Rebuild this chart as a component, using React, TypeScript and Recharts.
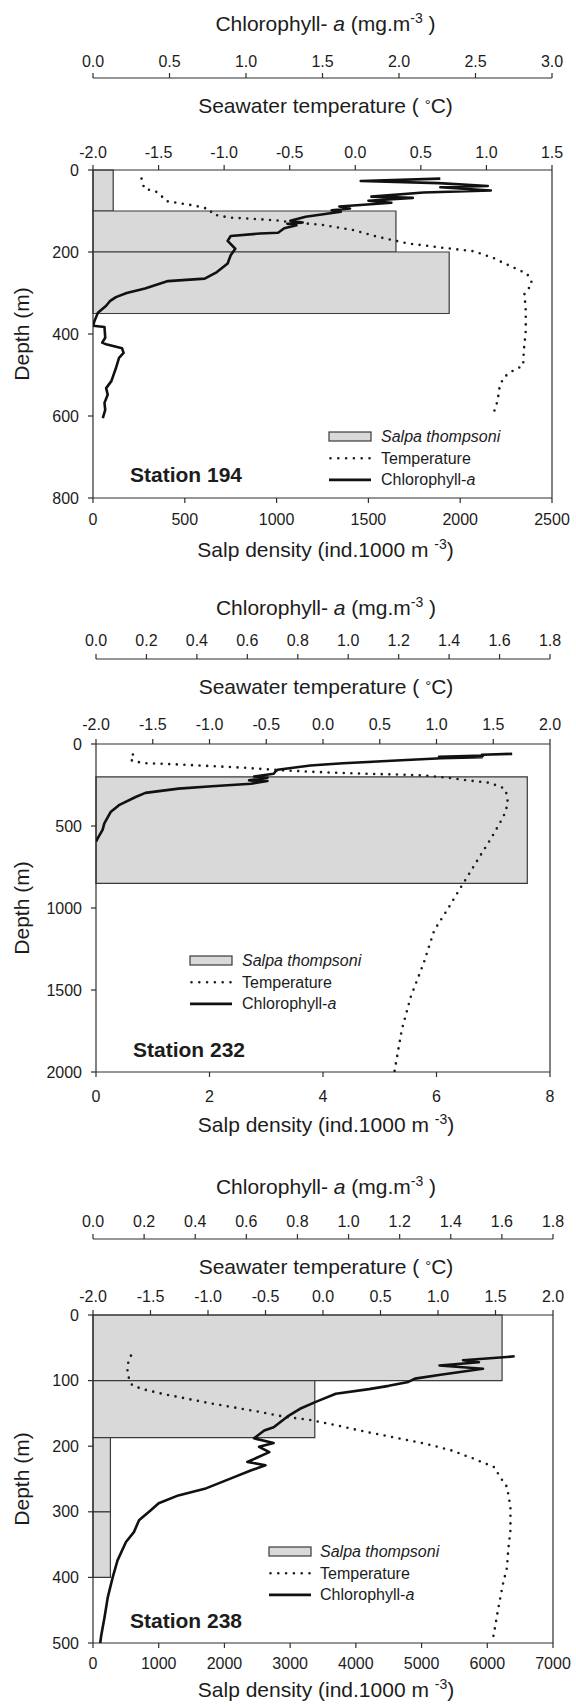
import React from 'react';
import { ComposedChart, Scatter, XAxis, YAxis, ReferenceArea, ReferenceLine } from 'recharts';

const FONT = '"Liberation Sans", Arial, sans-serif';
const INK = '#1c1c1c';
const AXIS = '#2e2e2e';
const BAR_FILL = '#d9d9d9';

// ---------- Station 194 ----------
const st194DepthTicks = [0, 200, 400, 600, 800];
const st194TempTicks = [-2, -1.5, -1, -0.5, 0, 0.5, 1, 1.5];
const st194ChlTicks = [0, 0.5, 1, 1.5, 2, 2.5, 3];
const st194DensityTicks = [0, 500, 1000, 1500, 2000, 2500];
const st194SalpTop = [0, 100, 200];
const st194SalpBottom = [100, 200, 350];
const st194SalpDensity = [110, 1650, 1940];
const st194TempDepth = [21, 32, 45, 54, 66, 76, 80, 85, 90, 96, 108, 116, 120, 123, 127, 134, 146, 163, 179, 189, 198, 214, 222, 237, 253, 277, 302, 343, 392, 441, 477, 490, 506, 530, 563, 588, 600];
const st194Temp = [-1.63, -1.62, -1.61, -1.51, -1.47, -1.44, -1.36, -1.26, -1.18, -1.11, -1.09, -0.96, -0.73, -0.6, -0.5, -0.25, -0.02, 0.17, 0.4, 0.65, 0.9, 1.05, 1.1, 1.2, 1.31, 1.35, 1.29, 1.3, 1.3, 1.285, 1.28, 1.2, 1.13, 1.1, 1.085, 1.06, 1.03];
const st194ChlDepth = [21, 27, 32, 39, 42, 50, 55, 65, 68, 75, 80, 89, 94, 98, 102, 114, 124, 128, 131, 135, 142, 153, 155, 161, 173, 192, 208, 228, 249, 265, 271, 289, 300, 310, 320, 331, 348, 368, 380, 383, 409, 421, 425, 435, 446, 458, 483, 515, 532, 548, 568, 585, 605];
const st194Chl = [2.27, 1.75, 2.26, 2.58, 2.27, 2.6, 2.16, 1.82, 2.09, 1.8, 1.95, 1.61, 1.68, 1.56, 1.62, 1.39, 1.29, 1.37, 1.27, 1.33, 1.25, 1.21, 1.09, 0.9, 0.88, 0.93, 0.9, 0.88, 0.81, 0.73, 0.49, 0.34, 0.22, 0.15, 0.11, 0.086, 0.032, 0.01, 0.0, 0.075, 0.08, 0.06, 0.086, 0.19, 0.2, 0.17, 0.15, 0.12, 0.086, 0.096, 0.075, 0.08, 0.064];

// ---------- Station 232 ----------
const st232DepthTicks = [0, 500, 1000, 1500, 2000];
const st232TempTicks = [-2, -1.5, -1, -0.5, 0, 0.5, 1, 1.5, 2];
const st232ChlTicks = [0, 0.2, 0.4, 0.6, 0.8, 1, 1.2, 1.4, 1.6, 1.8];
const st232DensityTicks = [0, 2, 4, 6, 8];
const st232SalpTop = [200];
const st232SalpBottom = [850];
const st232SalpDensity = [7.6];
const st232TempDepth = [64, 80, 105, 117, 125, 135, 145, 153, 161, 169, 177, 183, 188, 194, 206, 222, 236, 262, 280, 362, 443, 565, 687, 789, 890, 994, 1136, 1338, 1540, 1743, 1996];
const st232Temp = [-1.675, -1.7, -1.68, -1.56, -1.27, -0.98, -0.69, -0.52, -0.345, -0.11, 0.18, 0.47, 0.76, 0.93, 1.1, 1.28, 1.46, 1.57, 1.61, 1.63, 1.59, 1.49, 1.38, 1.29, 1.2, 1.11, 0.98, 0.886, 0.774, 0.694, 0.63];
const st232ChlDepth = [60, 66, 71, 78, 81, 87, 98, 117, 131, 157, 170, 181, 198, 206, 222, 226, 242, 258, 272, 298, 323, 373, 413, 484, 524, 575, 595];
const st232Chl = [1.65, 1.53, 1.535, 1.36, 1.53, 1.37, 1.23, 0.98, 0.85, 0.72, 0.71, 0.705, 0.627, 0.68, 0.607, 0.68, 0.614, 0.46, 0.327, 0.196, 0.157, 0.091, 0.059, 0.033, 0.026, 0.0065, 0.0];

// ---------- Station 238 ----------
const st238DepthTicks = [0, 100, 200, 300, 400, 500];
const st238TempTicks = [-2, -1.5, -1, -0.5, 0, 0.5, 1, 1.5, 2];
const st238ChlTicks = [0, 0.2, 0.4, 0.6, 0.8, 1, 1.2, 1.4, 1.6, 1.8];
const st238DensityTicks = [0, 1000, 2000, 3000, 4000, 5000, 6000, 7000];
const st238SalpTop = [0, 100, 187, 300];
const st238SalpBottom = [100, 187, 300, 400];
const st238SalpDensity = [6225, 3375, 265, 265];
const st238TempDepth = [62, 69, 79, 89, 97, 107, 113, 120, 127, 135, 141, 148, 155, 160, 168, 178, 186, 196, 206, 219, 232, 247, 262, 292, 328, 359, 385, 410, 451, 482, 500];
const st238Temp = [-1.67, -1.69, -1.7, -1.7, -1.686, -1.66, -1.57, -1.4, -1.2, -0.97, -0.77, -0.54, -0.34, -0.11, 0.114, 0.37, 0.6, 0.886, 1.11, 1.31, 1.49, 1.54, 1.6, 1.63, 1.63, 1.61, 1.6, 1.565, 1.52, 1.49, 1.47];
const st238ChlDepth = [63, 69, 72, 77, 82, 86, 91, 97, 102, 108, 113, 120, 132, 143, 155, 171, 176, 188, 195, 201, 209, 224, 229, 237, 249, 265, 275, 287, 298, 313, 331, 346, 374, 400, 430, 461, 489, 501];
const st238Chl = [1.65, 1.448, 1.51, 1.356, 1.526, 1.45, 1.36, 1.26, 1.234, 1.157, 1.08, 0.95, 0.874, 0.81, 0.76, 0.707, 0.67, 0.63, 0.707, 0.65, 0.69, 0.604, 0.675, 0.617, 0.54, 0.437, 0.334, 0.257, 0.225, 0.18, 0.16, 0.129, 0.096, 0.077, 0.058, 0.045, 0.032, 0.028];

const last = (a: number[]) => a[a.length - 1];
const fmt1 = (v: number) => v.toFixed(1);
const noDot = () => <g />;

type Layout = {
  pageTop: number; chlLine: number; boxTop: number; boxBottom: number;
  left: number; right: number;
  tempGap: number; chlGap: number; densGap: number;
  chlTitle: number; tempTitle: number; salpTitle: number;
  legendX: number; legendY: number; legendTextX: number;
  stationX: number; stationY: number;
};

const stations = [
  {
    name: 'Station 194',
    depthTicks: st194DepthTicks, tempTicks: st194TempTicks, chlTicks: st194ChlTicks, densTicks: st194DensityTicks,
    salpTop: st194SalpTop, salpBottom: st194SalpBottom, salpDensity: st194SalpDensity,
    temp: st194TempDepth.map((d, i) => ({ d, t: st194Temp[i] })),
    chl: st194ChlDepth.map((d, i) => ({ d, c: st194Chl[i] })),
    layout: {
      pageTop: 0, chlLine: 78, boxTop: 170, boxBottom: 498, left: 93, right: 552,
      tempGap: 7, chlGap: 6, densGap: 11,
      chlTitle: 31, tempTitle: 113, salpTitle: 557,
      legendX: 329, legendY: 436.5, legendTextX: 381, stationX: 130, stationY: 482,
    } as Layout,
  },
  {
    name: 'Station 232',
    depthTicks: st232DepthTicks, tempTicks: st232TempTicks, chlTicks: st232ChlTicks, densTicks: st232DensityTicks,
    salpTop: st232SalpTop, salpBottom: st232SalpBottom, salpDensity: st232SalpDensity,
    temp: st232TempDepth.map((d, i) => ({ d, t: st232Temp[i] })),
    chl: st232ChlDepth.map((d, i) => ({ d, c: st232Chl[i] })),
    layout: {
      pageTop: 580, chlLine: 659, boxTop: 744, boxBottom: 1072, left: 96, right: 550,
      tempGap: 9, chlGap: 8, densGap: 14,
      chlTitle: 615, tempTitle: 694, salpTitle: 1132,
      legendX: 190, legendY: 960.5, legendTextX: 242, stationX: 133, stationY: 1057,
    } as Layout,
  },
  {
    name: 'Station 238',
    depthTicks: st238DepthTicks, tempTicks: st238TempTicks, chlTicks: st238ChlTicks, densTicks: st238DensityTicks,
    salpTop: st238SalpTop, salpBottom: st238SalpBottom, salpDensity: st238SalpDensity,
    temp: st238TempDepth.map((d, i) => ({ d, t: st238Temp[i] })),
    chl: st238ChlDepth.map((d, i) => ({ d, c: st238Chl[i] })),
    layout: {
      pageTop: 1150, chlLine: 1239, boxTop: 1315, boxBottom: 1643, left: 93, right: 553,
      tempGap: 8, chlGap: 7.5, densGap: 10,
      chlTitle: 1194, tempTitle: 1273.5, salpTitle: 1697,
      legendX: 269, legendY: 1551.5, legendTextX: 320, stationX: 130, stationY: 1628,
    } as Layout,
  },
];

type Station = (typeof stations)[number];

const tickStyle = { fill: INK, fontSize: 16, fontFamily: FONT };
const lineStyle = { stroke: AXIS, strokeWidth: 1.2 };

function StationPanel({ s }: { s: Station }) {
  const L = s.layout;
  const top = L.pageTop;
  const chlH = 40;
  const densH = 40;
  const tempH = L.boxTop - L.chlLine;
  const height = L.boxBottom - top + densH;
  const cx = (L.left + L.right) / 2 + 3;
  const cy = (L.boxTop + L.boxBottom) / 2 - top;
  const step = 21.7;
  const r0 = L.legendY - top;
  const lx = L.legendX;
  // invisible points that tie the density axis to the salp layers
  const salpPoints = s.salpDensity.map((v, i) => ({ s: v, d: s.salpTop[i] }));

  return (
    <div style={{ position: 'absolute', left: 0, top, width: 576, height }}>
      <ComposedChart
        width={576}
        height={height}
        margin={{ top: L.chlLine - top - chlH, right: 576 - L.right, bottom: 0, left: 0 }}
      >
        <XAxis
          xAxisId="b_chl" orientation="top" type="number" dataKey="c"
          domain={[0, last(s.chlTicks)]} ticks={s.chlTicks} interval={0}
          allowDataOverflow height={chlH} tickFormatter={fmt1}
          tick={tickStyle} tickSize={5} tickMargin={L.chlGap}
          axisLine={lineStyle} tickLine={lineStyle}
        />
        <XAxis
          xAxisId="a_temp" orientation="top" type="number" dataKey="t"
          domain={[s.tempTicks[0], last(s.tempTicks)]} ticks={s.tempTicks} interval={0}
          allowDataOverflow height={tempH} tickFormatter={fmt1}
          tick={tickStyle} tickSize={5} tickMargin={L.tempGap}
          axisLine={lineStyle} tickLine={lineStyle}
        />
        <XAxis
          xAxisId="c_dens" orientation="bottom" type="number" dataKey="s"
          domain={[0, last(s.densTicks)]} ticks={s.densTicks} interval={0}
          allowDataOverflow height={densH}
          tick={tickStyle} tickSize={5} tickMargin={L.densGap}
          axisLine={lineStyle} tickLine={lineStyle}
        />
        <YAxis
          yAxisId="depth" type="number" dataKey="d" reversed
          domain={[0, last(s.depthTicks)]} ticks={s.depthTicks} interval={0}
          allowDataOverflow width={L.left}
          tick={tickStyle} tickSize={5} tickMargin={9}
          axisLine={lineStyle} tickLine={lineStyle}
        />
        {s.salpDensity.map((v, i) => (
          <ReferenceArea
            key={`salp-${i}`}
            xAxisId="c_dens" yAxisId="depth"
            x1={0} x2={v} y1={s.salpTop[i]} y2={s.salpBottom[i]}
            fill={BAR_FILL} fillOpacity={1} stroke="#3a3a3a" strokeWidth={1.2}
          />
        ))}
        <ReferenceLine xAxisId="c_dens" yAxisId="depth" x={last(s.densTicks)} stroke={AXIS} strokeWidth={1.2} />
        <Scatter
          xAxisId="c_dens" yAxisId="depth" data={salpPoints} shape={noDot}
          isAnimationActive={false} legendType="none"
        />
        <Scatter
          xAxisId="a_temp" yAxisId="depth" data={s.temp} shape={noDot}
          line={{ stroke: INK, strokeWidth: 2.6, strokeDasharray: '0 7.6', strokeLinecap: 'round' }}
          isAnimationActive={false} legendType="none"
        />
        <Scatter
          xAxisId="b_chl" yAxisId="depth" data={s.chl} shape={noDot}
          line={{ stroke: '#111', strokeWidth: 2.6, strokeLinejoin: 'round' }}
          isAnimationActive={false} legendType="none"
        />
      </ComposedChart>

      <svg
        width={576} height={height + 40}
        style={{ position: 'absolute', left: 0, top: 0, overflow: 'visible', pointerEvents: 'none' }}
        fontFamily={FONT} fill={INK}
      >
        <text x={cx} y={L.chlTitle - top} textAnchor="middle" fontSize={21}>
          {'Chlorophyll- '}<tspan fontStyle="italic">a</tspan>{' (mg.m'}
          <tspan dy={-8} fontSize={14}>-3</tspan><tspan dy={8}>{' )'}</tspan>
        </text>
        <text x={cx} y={L.tempTitle - top} textAnchor="middle" fontSize={21}>
          {'Seawater temperature ( '}<tspan fontSize={15} dy={-3}>°</tspan><tspan dy={3}>C)</tspan>
        </text>
        <text x={cx} y={L.salpTitle - top} textAnchor="middle" fontSize={21}>
          {'Salp density (ind.1000 m '}<tspan dy={-8} fontSize={14}>-3</tspan><tspan dy={8}>)</tspan>
        </text>
        <text x={29} y={cy} transform={`rotate(-90 29 ${cy})`} textAnchor="middle" fontSize={21}>
          Depth (m)
        </text>

        <rect x={lx} y={r0 - 4.5} width={42} height={9} fill={BAR_FILL} stroke="#3a3a3a" strokeWidth={1.2} />
        <text x={L.legendTextX} y={r0 + 5.5} fontSize={16} fontStyle="italic">Salpa thompsoni</text>
        <line x1={lx + 1.5} x2={lx + 42} y1={r0 + step} y2={r0 + step} stroke={INK} strokeWidth={2.6} strokeDasharray="0 7.8" strokeLinecap="round" />
        <text x={L.legendTextX} y={r0 + step + 5.5} fontSize={16}>Temperature</text>
        <line x1={lx} x2={lx + 42} y1={r0 + 2 * step} y2={r0 + 2 * step} stroke="#111" strokeWidth={2.6} />
        <text x={L.legendTextX} y={r0 + 2 * step + 5.5} fontSize={16}>
          {'Chlorophyll-'}<tspan fontStyle="italic">a</tspan>
        </text>

        <text x={L.stationX} y={L.stationY - top} fontSize={21} fontWeight="bold">{s.name}</text>
      </svg>
    </div>
  );
}

export default function App() {
  return (
    <div style={{ position: 'absolute', left: 0, top: 0, width: 576, height: 1707, background: '#fff', fontFamily: FONT }}>
      {stations.map((s) => (
        <StationPanel key={s.name} s={s} />
      ))}
    </div>
  );
}
